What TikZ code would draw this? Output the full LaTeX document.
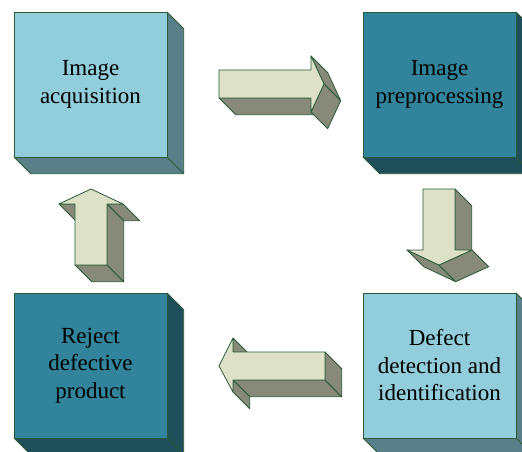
\documentclass[tikz,border=0pt]{standalone}
\usepackage{fontspec}
\setmainfont{Liberation Serif}
\newfontfamily\tnr{Liberation Serif}
\definecolor{lightfront}{HTML}{92CDDC}
\definecolor{lightside}{HTML}{5A7F88}
\definecolor{darkfront}{HTML}{31849B}
\definecolor{darkside}{HTML}{1F4F5B}
\definecolor{arrowfront}{HTML}{DDE1C8}
\definecolor{arrowside}{HTML}{878A78}
\definecolor{outline}{HTML}{2B5A38}
\def\dd{16.7}
\tikzset{
  edge/.style={draw=outline, line width=0.8pt, line join=round},
  afront/.style={edge, fill=arrowfront},
  aside/.style={edge, fill=arrowside},
  boxtext/.style={align=center, text=black, font=\tnr\fontsize{23}{27.5}\selectfont},
}
\newcommand\cubebox[8]{%
  \filldraw[edge, fill=#6] (#3,#2) -- ({#3+\dd},{#2+\dd}) -- ({#3+\dd},{#4+\dd}) -- ({#1+\dd},{#4+\dd}) -- (#1,#4) -- (#3,#4) -- cycle;
  \draw[edge] (#3,#4) -- ({#3+\dd},{#4+\dd});
  \filldraw[edge, fill=#5] (#1,#2) rectangle (#3,#4);
  \node[boxtext] (#7) at ({(#1+#3)/2},{(#2+#4)/2}) {#8};
}
\begin{document}
\begin{tikzpicture}[x=1pt, y=-1pt]
\useasboundingbox (0,0) rectangle (522,452);
\clip (0,0) rectangle (522,452);
\fill[white] (0,0) rectangle (522,452);
% boxes
\cubebox{14}{12}{167}{157}{lightfront}{lightside}{acq}{Image\\acquisition}
\cubebox{363}{12}{516}{157}{darkfront}{darkside}{pre}{Image\\preprocessing}
\cubebox{14}{293}{167}{438}{darkfront}{darkside}{rej}{Reject\\defective\\product}
\cubebox{363}{293}{516}{438}{lightfront}{lightside}{det}{Defect\\detection and\\identification}
% arrow right
\filldraw[aside] (219,98) -- (311,98) -- ({311+\dd},{98+\dd}) -- ({219+\dd},{98+\dd}) -- cycle;
\filldraw[aside] (311,56) -- (324,84) -- ({324+\dd},{84+\dd}) -- ({311+\dd},{56+\dd}) -- cycle;
\filldraw[aside] (324,84) -- (311,112) -- ({311+\dd},{112+\dd}) -- ({324+\dd},{84+\dd}) -- cycle;
\filldraw[afront] (219,70) -- (311,70) -- (311,56) -- (324,84) -- (311,112) -- (311,98) -- (219,98) -- cycle;
% arrow down
\filldraw[aside] (455,189) -- ({455+\dd},{189+\dd}) -- ({455+\dd},{250+\dd}) -- (455,250) -- cycle;
\filldraw[aside] (407,250) -- (439,265) -- ({439+\dd},{265+\dd}) -- ({407+\dd},{250+\dd}) -- cycle;
\filldraw[aside] (472,250) -- (439,265) -- ({439+\dd},{265+\dd}) -- ({472+\dd},{250+\dd}) -- cycle;
\filldraw[afront] (423,189) -- (455,189) -- (455,250) -- (472,250) -- (439,265) -- (407,250) -- (423,250) -- cycle;
% arrow left
\filldraw[aside] (233,338) -- (233,352) -- ({233+\dd},{352+\dd}) -- ({233+\dd},{338+\dd}) -- cycle;
\filldraw[aside] (233,380) -- (325,380) -- ({325+\dd},{380+\dd}) -- ({233+\dd},{380+\dd}) -- cycle;
\filldraw[aside] (233,380) -- (233,392) -- ({233+\dd},{392+\dd}) -- ({233+\dd},{380+\dd}) -- cycle;
\filldraw[aside] (325,352) -- ({325+\dd},{352+\dd}) -- ({325+\dd},{380+\dd}) -- (325,380) -- cycle;
\filldraw[afront] (219,366) -- (233,338) -- (233,352) -- (325,352) -- (325,380) -- (233,380) -- (233,392) -- cycle;
% arrow up
\filldraw[aside] (59,204) -- (75,204) -- ({75+\dd},{204+\dd}) -- ({59+\dd},{204+\dd}) -- cycle;
\filldraw[aside] (107,204) -- (123,204) -- ({123+\dd},{204+\dd}) -- ({107+\dd},{204+\dd}) -- cycle;
\filldraw[aside] (107,204) -- ({107+\dd},{204+\dd}) -- ({107+\dd},{265+\dd}) -- (107,265) -- cycle;
\filldraw[aside] (75,265) -- (107,265) -- ({107+\dd},{265+\dd}) -- ({75+\dd},{265+\dd}) -- cycle;
\filldraw[afront] (91,189) -- (123,204) -- (107,204) -- (107,265) -- (75,265) -- (75,204) -- (59,204) -- cycle;
\end{tikzpicture}
\end{document}
